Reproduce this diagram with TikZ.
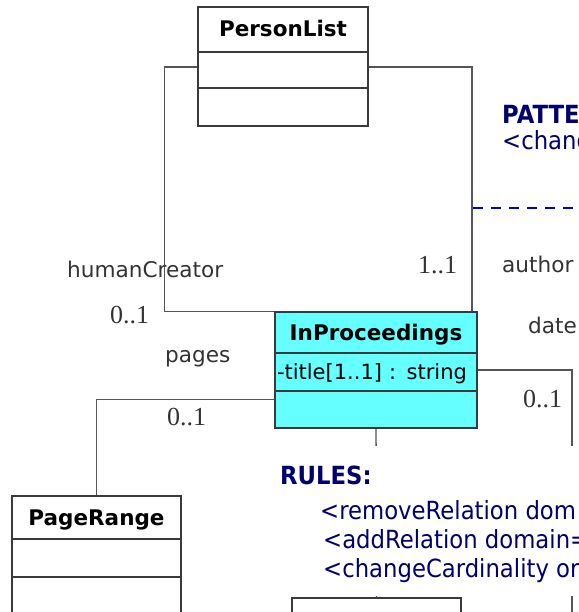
\documentclass[tikz,border=0pt]{standalone}
\usepackage{fontspec}
\setmainfont{DejaVu Sans}
\newfontfamily\multfont{Liberation Serif}
\newfontfamily\classfont{DejaVu Sans}
\newfontfamily\notefont{DejaVu Sans}[FakeStretch=0.91]
\usepackage{xcolor}
\definecolor{classcyan}{RGB}{102,255,255}
\definecolor{boxgray}{RGB}{58,58,58}
\definecolor{linegray}{RGB}{85,85,85}
\definecolor{labelgray}{RGB}{51,51,51}
\definecolor{notenavy}{RGB}{0,0,110}
\definecolor{noteblue}{RGB}{0,0,204}

\begin{document}
\begin{tikzpicture}[x=1pt,y=-1pt]
  \tikzset{classhead/.style={draw=boxgray,line width=1.6pt,fill=white,inner sep=0pt,minimum width=170pt,text height=15pt,text depth=0pt,font=\classfont\bfseries\fontsize{21.5}{25}\selectfont}}
  \tikzset{classpart/.style={draw=boxgray,line width=1.6pt,fill=white,inner sep=0pt,minimum width=170pt}}
  \tikzset{assoc/.style={draw=linegray,line width=1.4pt}}
  \tikzset{rolelabel/.style={anchor=base west,inner sep=0pt,text=labelgray,font=\fontsize{21.6}{25}\selectfont}}
  \tikzset{multlabel/.style={anchor=base west,inner sep=0pt,text=labelgray,font=\multfont\fontsize{26}{30}\selectfont}}
  \tikzset{notehead/.style={anchor=base west,inner sep=0pt,text=notenavy,font=\notefont\bfseries\fontsize{25}{29}\selectfont}}
  \tikzset{notetext/.style={anchor=base west,inner sep=0pt,text=notenavy,font=\notefont\fontsize{25}{29}\selectfont}}
  \useasboundingbox (0,0) rectangle (578,612);
  \clip (0,0) rectangle (578,612);
  % classes
  \node[classhead,minimum height=45pt] (plist) at (283,29.5) {PersonList};
  \node[classpart,minimum height=36pt] (plistA) at (283,70) {};
  \node[classpart,minimum height=38pt] (plistB) at (283,107) {};
  \node[classhead,fill=classcyan,minimum width=202pt,minimum height=41pt] (inproc) at (376,332.5) {InProceedings};
  \node[classpart,fill=classcyan,minimum width=202pt,minimum height=38pt,inner xsep=2pt,text width=198pt,align=left,text height=15pt,text depth=0pt,font=\fontsize{21}{25}\selectfont] (inprocA) at (376,372) {-title[1..1] : string};
  \node[classpart,fill=classcyan,minimum width=202pt,minimum height=37pt] (inprocB) at (376,409.5) {};
  \node[classhead,minimum width=169pt,minimum height=43pt] (prange) at (96.5,517.5) {PageRange};
  \node[classpart,minimum width=169pt,minimum height=38pt] (prangeA) at (96.5,558) {};
  \node[classpart,minimum width=169pt,minimum height=38pt] (prangeB) at (96.5,596) {};
  \node[classhead,minimum width=169pt,minimum height=43pt] (lowbox) at (376.5,619.5) {};
  % associations
  \coordinate (cutR) at (572,640);
  \draw[assoc] ([yshift=3pt]plistA.west) -- ++(-33,0) |- (inproc.north west);
  \draw[assoc] ([yshift=3pt]plistA.east) -| ([xshift=-6pt]inproc.north east);
  \draw[assoc] ([yshift=10pt]inprocB.west) -| (prange.north);
  \draw[assoc] ([yshift=2pt]inprocA.east) -| (cutR);
  \draw[assoc] (inprocB.south) -- (lowbox.north);
  % role names and multiplicities
  \node[rolelabel] (roleHuman) at (67,277) {humanCreator};
  \node[multlabel] (multHuman) at (110,323) {0..1};
  \node[rolelabel] (rolePages) at (165,362) {pages};
  \node[multlabel] (multPages) at (167,425) {0..1};
  \node[multlabel] (multAuthor) at (418,273) {1..1};
  \node[rolelabel] (roleAuthor) at (502,272) {author};
  \node[rolelabel] (roleDate) at (528,333) {date};
  \node[multlabel] (multDate) at (523,407) {0..1};
  % pattern note
  \draw[noteblue,line width=2pt,dash pattern=on 10pt off 8pt] (473,208) -- (590,208);
  \node[notehead] (patHead) at (502,124) {PATTE};
  \node[notetext] (patText) at (502,150) {<chang};
  % rules note
  \fill[white] (274,446) rectangle (590,596);
  \node[notehead] (rulesHead) at (280,484) {RULES:};
  \node[notetext] (ruleA) at (320,519) {<removeRelation dom};
  \node[notetext] (ruleB) at (323,548) {<addRelation domain=};
  \node[notetext] (ruleC) at (323,577) {<changeCardinality or};
\end{tikzpicture}
\end{document}
